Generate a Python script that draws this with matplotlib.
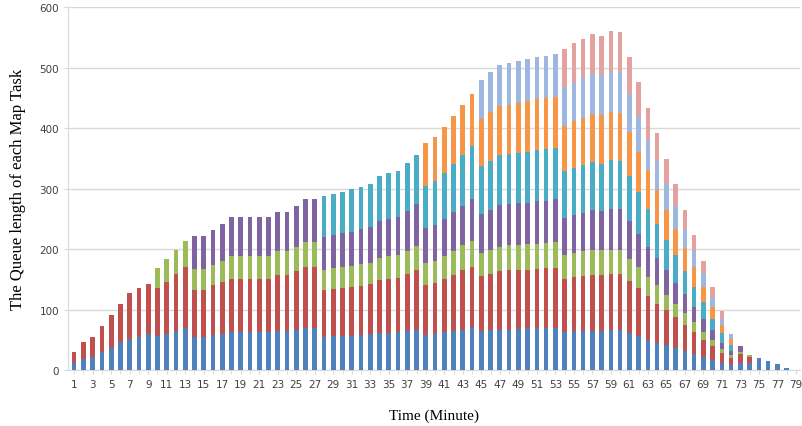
import numpy as np
import matplotlib.pyplot as plt

minutes = np.arange(1, 80)

# segment heights per bar (bottom to top)
blue = [12, 19, 22, 30, 37, 46, 52, 55, 59, 56, 60, 65, 70, 54, 54, 58, 60, 63, 63, 63,
        63, 63, 65, 65, 67, 70, 70, 55, 56, 56, 57, 58, 59, 61, 62, 63, 65, 67, 58, 60,
        63, 65, 67, 71, 64, 66, 67, 67, 68, 69, 69, 70, 70, 63, 64, 64, 65, 65, 66, 66,
        61, 56, 50, 45, 41, 36, 31, 26, 22, 17, 11, 8, 11, 11, 20, 15, 10, 4, 0]
red = [18, 28, 33, 43, 54, 63, 75, 80, 84, 79, 86, 94, 100, 79, 79, 82, 85, 88, 88, 88,
       88, 88, 92, 92, 96, 100, 100, 77, 78, 80, 81, 81, 83, 88, 88, 89, 94, 98, 82, 84,
       87, 92, 98, 99, 91, 93, 96, 98, 98, 97, 98, 98, 99, 88, 90, 91, 92, 92, 93, 93,
       87, 79, 73, 65, 58, 51, 44, 37, 28, 22, 17, 12, 15, 11, 0, 0, 0, 0, 0]
green = [0, 0, 0, 0, 0, 0, 0, 0, 0, 33, 37, 39, 43, 34, 34, 34, 36, 38, 38, 38,
         38, 38, 39, 39, 40, 42, 42, 33, 34, 34, 34, 36, 35, 36, 38, 38, 38, 40, 37, 36,
         38, 40, 41, 43, 38, 40, 41, 41, 41, 42, 42, 42, 42, 39, 39, 41, 41, 41, 40, 40,
         36, 35, 31, 30, 25, 22, 19, 17, 13, 11, 6, 5, 4, 3, 0, 0, 0, 0, 0]
purple = [0, 0, 0, 0, 0, 0, 0, 0, 0, 0, 0, 0, 0, 55, 55, 58, 61, 64, 64, 64,
          64, 64, 66, 66, 69, 71, 71, 55, 55, 57, 57, 58, 59, 61, 62, 63, 66, 69, 58, 59,
          62, 64, 66, 70, 65, 66, 69, 69, 69, 69, 70, 70, 71, 62, 63, 64, 66, 65, 67, 67,
          62, 55, 50, 45, 41, 35, 31, 24, 22, 16, 11, 7, 10, 0, 0, 0, 0, 0, 0]
cyan = [0, 0, 0, 0, 0, 0, 0, 0, 0, 0, 0, 0, 0, 0, 0, 0, 0, 0, 0, 0,
        0, 0, 0, 0, 0, 0, 0, 67, 68, 68, 71, 70, 71, 75, 75, 76, 80, 82, 70, 73,
        76, 80, 84, 87, 79, 80, 82, 82, 83, 84, 84, 85, 85, 77, 78, 79, 80, 78, 81, 79,
        74, 70, 63, 57, 50, 46, 38, 34, 28, 19, 16, 9, 0, 0, 0, 0, 0, 0, 0]
orange = [0, 0, 0, 0, 0, 0, 0, 0, 0, 0, 0, 0, 0, 0, 0, 0, 0, 0, 0, 0,
          0, 0, 0, 0, 0, 0, 0, 0, 0, 0, 0, 0, 0, 0, 0, 0, 0, 0, 71, 73,
          76, 79, 82, 86, 78, 82, 81, 82, 83, 83, 85, 85, 85, 75, 77, 78, 79, 80, 80, 80,
          73, 66, 63, 55, 50, 44, 38, 32, 25, 20, 13, 10, 0, 0, 0, 0, 0, 0, 0]
lightblue = [0, 0, 0, 0, 0, 0, 0, 0, 0, 0, 0, 0, 0, 0, 0, 0, 0, 0, 0, 0,
             0, 0, 0, 0, 0, 0, 0, 0, 0, 0, 0, 0, 0, 0, 0, 0, 0, 0, 0, 0,
             0, 0, 0, 0, 64, 66, 69, 69, 69, 70, 69, 69, 71, 64, 64, 66, 66, 67, 67, 68,
             63, 59, 51, 48, 42, 37, 32, 26, 22, 16, 11, 8, 0, 0, 0, 0, 0, 0, 0]
pink = [0, 0, 0, 0, 0, 0, 0, 0, 0, 0, 0, 0, 0, 0, 0, 0, 0, 0, 0, 0,
        0, 0, 0, 0, 0, 0, 0, 0, 0, 0, 0, 0, 0, 0, 0, 0, 0, 0, 0, 0,
        0, 0, 0, 0, 0, 0, 0, 0, 0, 0, 0, 0, 0, 63, 65, 64, 66, 65, 67, 66,
        62, 56, 53, 47, 42, 36, 32, 28, 21, 17, 12, 0, 0, 0, 0, 0, 0, 0, 0]

series = [blue, red, green, purple, cyan, orange, lightblue, pink]
colors = ['#4F81BD', '#C0504D', '#9BBB59', '#8064A2', '#4BACC6', '#F79646',
          '#9DB7E0', '#E3A2A0']

fig = plt.figure(figsize=(8.02, 4.27), dpi=100)
ax = fig.add_axes([0.085, 0.131, 0.912, 0.850])

bottom = np.zeros(len(minutes))
for vals, col in zip(series, colors):
    vals = np.array(vals, dtype=float)
    ax.bar(minutes, vals, width=0.5, bottom=bottom, color=col, zorder=3)
    bottom += vals

ax.set_xlim(0.35, 79.4)
ax.set_ylim(0, 600)
ax.set_yticks(range(0, 601, 100))
ax.set_xticks(minutes[::2])
ax.set_xticks(minutes, minor=True)
ax.yaxis.grid(True, color='#D9D9D9', linewidth=1, zorder=0)

for s in ['top', 'right']:
    ax.spines[s].set_visible(False)
ax.spines['left'].set_color('#D9D9D9')
ax.spines['bottom'].set_color('#D9D9D9')
ax.tick_params(axis='both', colors='#D9D9D9', labelcolor='#404040', labelsize=7.5,
               length=3)
ax.tick_params(axis='x', which='minor', colors='#D9D9D9', length=3)

ax.set_ylabel('The Queue length of each Map Task', family='Liberation Serif',
              fontsize=12, labelpad=10)
ax.set_xlabel('Time (Minute)', family='Liberation Serif', fontsize=11, labelpad=14)

fig.savefig('out.png', dpi=100)
